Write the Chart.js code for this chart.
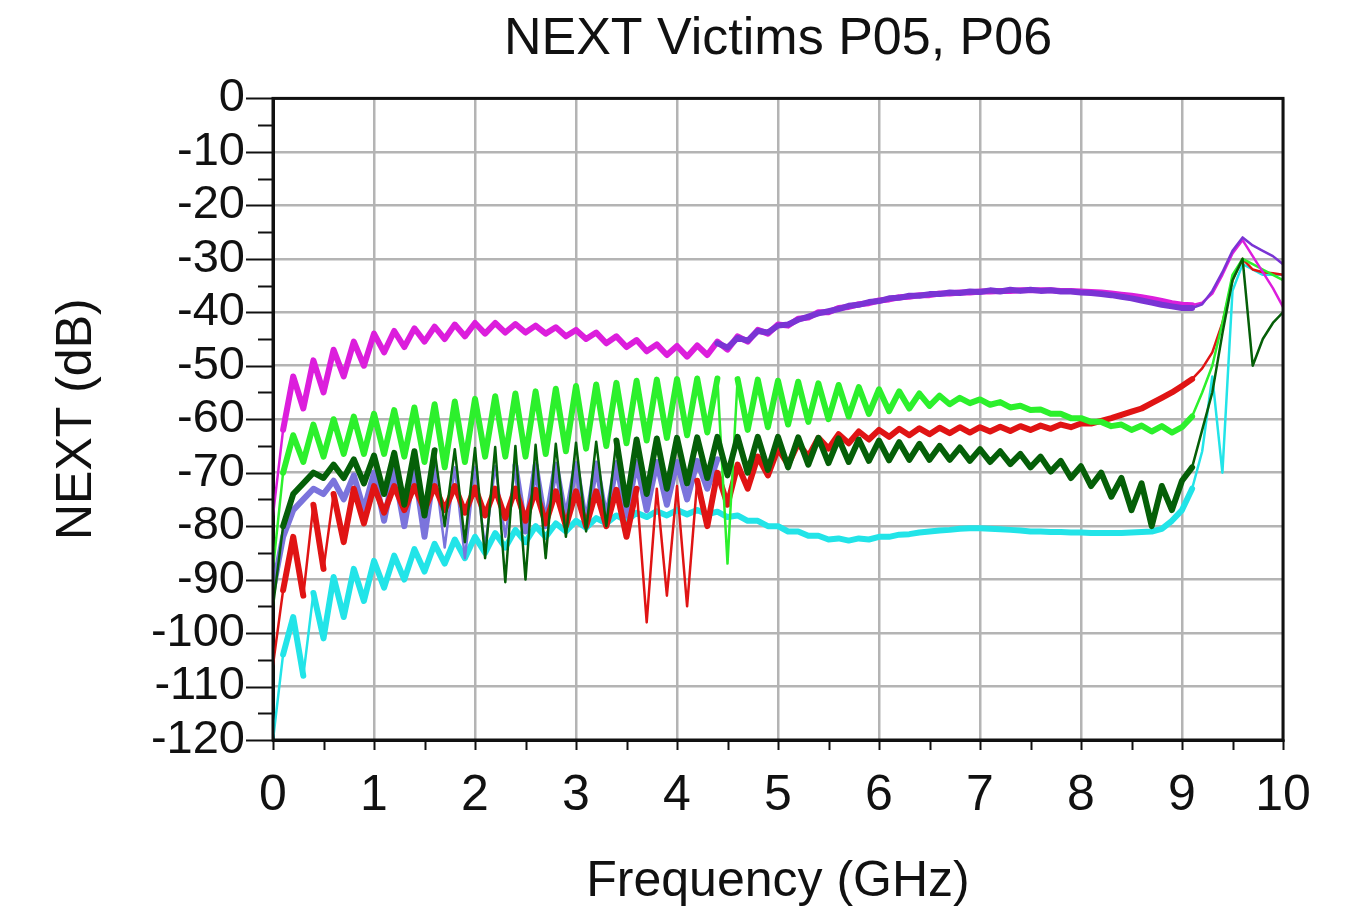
<!DOCTYPE html>
<html>
<head>
<meta charset="utf-8">
<script src="https://cdn.jsdelivr.net/npm/chart.js@4.4.1/dist/chart.umd.min.js"></script>
<style>
  html, body { margin: 0; padding: 0; background: #ffffff; }
  #wrap { width: 1364px; height: 916px; }
</style>
</head>
<body>
<div id="wrap"><canvas id="c" width="1364" height="916"></canvas></div>
<script>
// ---- text ----
const chartTitle = "NEXT Victims P05, P06";
const xTitle = "Frequency (GHz)";
const yTitle = "NEXT (dB)";

// ---- axis ticks ----
const xTickValues = [0, 1, 2, 3, 4, 5, 6, 7, 8, 9, 10];
const yTickValues = [0, -10, -20, -30, -40, -50, -60, -70, -80, -90, -100, -110, -120];

// ---- frequency sampling grid (GHz), 0.1 GHz step ----
const freqGHz = Array.from({ length: 101 }, (_, i) => i / 10);

// ---- series values (dB), one per grid point ----
const magenta = [
  -78, -62, -52, -58, -49, -55, -47, -52, -45.5, -50,
  -44, -47.5, -43.5, -46.5, -43, -45.5, -42.7, -45, -42.3, -44.5,
  -42, -44, -42, -43.8, -42.2, -43.8, -42.5, -44, -42.8, -44.5,
  -43.3, -45, -43.8, -45.8, -44.5, -46.5, -45.2, -47.3, -46, -48,
  -46.3, -48.3, -46.2, -48, -45.5, -47, -44.5, -45.5, -43.3, -44,
  -42.3, -42.5, -41.2, -41, -40, -40, -39.2, -39, -38.5, -38.3,
  -37.8, -37.6, -37.2, -37.1, -36.8, -36.8, -36.5, -36.5, -36.3, -36.3,
  -36.1, -36.1, -36, -36, -35.9, -35.9, -35.9, -35.9, -36, -36,
  -36.1, -36.2, -36.3, -36.5, -36.7, -36.9, -37.2, -37.5, -37.9, -38.3,
  -38.6, -38.7, -38.2, -36.5, -33, -29, -26.5, -29.5, -32.5, -35.5,
  -39
];
const violet = [
  null, null, null, null, null, null, null, null, null, null,
  null, null, null, null, null, null, null, null, null, null,
  null, null, null, null, null, null, null, null, null, null,
  null, null, null, null, null, null, null, null, null, null,
  null, null, null, null, -45.8, -46.6, -44.8, -45.3, -43.5, -43.8,
  -42.5, -42.3, -41.4, -40.8, -40.2, -39.8, -39.4, -38.8, -38.6, -38.1,
  -37.9, -37.4, -37.3, -36.9, -36.9, -36.6, -36.6, -36.3, -36.4, -36.1,
  -36.2, -35.9, -36.1, -35.8, -36, -35.8, -36, -35.9, -36.1, -36.1,
  -36.3, -36.4, -36.6, -36.8, -37.1, -37.4, -37.8, -38.2, -38.6, -38.9,
  -39.2, -39.2, -38.5, -36, -32.5, -28.5, -26, -27.5, -28.5, -29.5,
  -31
];
const lightGreen = [
  -88, -70, -63, -68, -61, -67, -60, -66.5, -59.5, -66.5,
  -59, -66.5, -58.3, -67, -57.8, -68, -57.2, -69, -56.7, -68,
  -56.2, -67, -55.7, -67, -55.2, -67, -54.8, -66.5, -54.3, -66,
  -53.8, -65.5, -53.5, -65, -53.2, -64.5, -52.8, -64, -52.6, -63.5,
  -52.5, -63, -52.4, -62.5, -52.4, -87, -52.5, -62, -52.6, -61.5,
  -52.8, -61, -53, -60.5, -53.3, -60, -53.6, -59.5, -54, -59,
  -54.4, -58.5, -54.8, -58, -55.2, -57.5, -55.6, -57.2, -56, -57,
  -56.3, -57.3, -56.8, -57.8, -57.5, -58.3, -58.2, -59, -59, -59.8,
  -59.8, -60.5, -60.5, -61.3, -61, -62, -61.2, -62.3, -61.3, -62.5,
  -61.5, -59.5, -55, -50, -42, -33, -30, -31, -32, -33,
  -34
];
const red = [
  -106, -92, -82, -93, -76, -88, -74, -83, -73, -79.5,
  -72.5, -77.5, -72.5, -77, -72.5, -77, -72.5, -77, -72.5, -77.5,
  -72.8, -78, -73, -78.5, -73, -79, -73.2, -79.5, -73.5, -80,
  -73.5, -80, -73.5, -80, -73.2, -82, -73, -98, -73, -93,
  -72.5, -95, -71.5, -80, -70, -76, -68.5, -73, -67, -70.5,
  -65.5, -68.5, -64.5, -67, -63.5, -65.5, -62.8, -64.5, -62.3, -63.8,
  -62, -63.3, -61.8, -63, -61.7, -62.8, -61.6, -62.6, -61.5, -62.5,
  -61.5, -62.3, -61.4, -62.2, -61.3, -62, -61.2, -61.8, -61, -61.5,
  -60.8, -60.8, -60.3, -59.8, -59.2, -58.6, -58, -57, -56, -55,
  -53.8, -52.5, -50.5, -47.5, -42, -34, -30, -32, -32.5, -32.7,
  -33
];
const darkGreen = [
  -95, -80, -74, -72, -70, -71, -68.5, -71, -67.5, -72,
  -66.8, -74, -66.3, -76, -66, -78, -65.8, -80, -65.6, -83,
  -65.4, -86, -65.2, -90.5, -65, -90, -64.8, -86, -64.6, -82,
  -64.4, -81, -64.2, -80, -64, -76, -63.8, -74, -63.6, -73,
  -63.5, -72, -63.4, -71, -63.3, -70.5, -63.3, -70, -63.3, -69.5,
  -63.3, -69, -63.4, -68.5, -63.5, -68.2, -63.6, -68, -63.8, -67.8,
  -64, -67.7, -64.3, -67.6, -64.6, -67.6, -65, -67.6, -65.3, -67.8,
  -65.6, -68, -66, -68.4, -66.5, -69, -67, -69.8, -67.8, -71,
  -68.8, -72.5, -70, -74.5, -71, -77, -72, -80, -72.5, -77,
  -71.5, -69, -62, -55, -44, -34, -30, -50, -45, -42,
  -40
];
const slateBlue = [
  -92, -82, -77, -75, -73, -74, -71.5, -75, -70.5, -77,
  -70, -79, -69.5, -80, -69.2, -82, -69, -84, -69, -86,
  -69, -84, -68.8, -82, -68.7, -81, -68.6, -80, -68.5, -79,
  -68.4, -80, -68.3, -79, -68.2, -78, -68, -77, -68, -76,
  -68, -75, -67.8, -73, -67.5, null, null, null, null, null,
  null, null, null, null, null, null, null, null, null, null,
  null, null, null, null, null, null, null, null, null, null,
  null, null, null, null, null, null, null, null, null, null,
  null, null, null, null, null, null, null, null, null, null,
  null, null, null, null, null, null, null, null, null, null,
  null
];
const cyan = [
  -120, -104, -97, -108, -92.5, -101, -89.5, -97, -88, -94,
  -86.5, -91.5, -85.5, -90, -84.3, -88.5, -83.3, -87, -82.5, -86,
  -82, -85, -81.3, -84, -80.7, -83, -80, -82, -79.5, -81,
  -79, -80.3, -78.5, -79.5, -78, -79, -77.5, -78.3, -77.2, -78,
  -77, -77.8, -77, -77.8, -77.3, -78.3, -78, -79, -79, -80,
  -80, -81, -81, -81.8, -81.8, -82.5, -82.3, -82.7, -82.3, -82.5,
  -82, -82, -81.6, -81.5, -81.2, -81, -80.8, -80.7, -80.5, -80.4,
  -80.4, -80.5, -80.6, -80.7, -80.8, -81, -81, -81.1, -81.1, -81.2,
  -81.2, -81.3, -81.3, -81.3, -81.3, -81.2, -81.1, -81, -80.5, -79,
  -77, -73, -66, -52, -70, -36, -31, -32, -33, -33,
  -33
];

// ---- build datasets ----
function pts(values) {
  return freqGHz.map((f, i) => ({ x: f, y: values[i] }));
}
const seriesDefs = [
  { label: "cyan", values: cyan, color: "#22e4e8", order: 7 },
  { label: "slate", values: slateBlue, color: "#7b74dc", order: 6 },
  { label: "red", values: red, color: "#e01414", order: 5 },
  { label: "green", values: lightGreen, color: "#2cf02c", order: 4 },
  { label: "darkgreen", values: darkGreen, color: "#055f08", order: 3 },
  { label: "magenta", values: magenta, color: "#dc1edc", order: 2 },
  { label: "violet", values: violet, color: "#7a34d4", order: 1 }
];
// thick trace, thin where the trace dives into a narrow resonance spike
const segWidth = ctx => {
  const a = ctx.p0.parsed, b = ctx.p1.parsed;
  if (b.x > 9.15) return 2.5;
  return Math.abs(b.y - a.y) > 13 ? 2.5 : 6;
};
const datasets = seriesDefs.map(s => ({
  label: s.label,
  data: pts(s.values),
  borderColor: s.color,
  backgroundColor: s.color,
  borderWidth: 6,
  segment: { borderWidth: segWidth },
  pointRadius: 0,
  tension: 0,
  spanGaps: false,
  borderJoinStyle: "round",
  borderCapStyle: "round",
  order: s.order
}));

const FONT = "'Liberation Sans', Arial, sans-serif";

const framePlugin = {
  id: "frameTicks",
  afterDraw(chart) {
    const { ctx, chartArea: a, scales } = chart;
    ctx.save();
    ctx.strokeStyle = "#111";
    ctx.lineWidth = 2;
    for (let v = -120; v <= 0; v += 5) {
      const y = Math.round(scales.y.getPixelForValue(v)) + 0.5;
      const len = (v % 10 === 0) ? 27 : 15;
      ctx.beginPath(); ctx.moveTo(a.left - len, y); ctx.lineTo(a.left, y); ctx.stroke();
    }
    for (let k = 0; k <= 20; k++) {
      const x = Math.round(scales.x.getPixelForValue(k / 2)) + 0.5;
      ctx.beginPath(); ctx.moveTo(x, a.bottom); ctx.lineTo(x, a.bottom + 10); ctx.stroke();
    }
    ctx.lineWidth = 3;
    ctx.strokeRect(a.left, a.top, a.right - a.left, a.bottom - a.top);
    ctx.restore();
  }
};

new Chart(document.getElementById("c"), {
  type: "line",
  data: { datasets },
  plugins: [framePlugin],
  options: {
    responsive: false,
    animation: false,
    events: [],
    layout: { padding: { left: 0, right: 81, top: 0, bottom: 0 } },
    plugins: {
      legend: { display: false },
      tooltip: { enabled: false },
      title: {
        display: true,
        text: chartTitle,
        fullSize: false,
        color: "#111",
        font: { family: FONT, size: 52, weight: "normal", lineHeight: 1.2 },
        padding: { top: 8, bottom: 28 }
      }
    },
    scales: {
      x: {
        type: "linear",
        min: 0, max: 10,
        afterFit(scale) { scale.height = 176; },
        afterBuildTicks(scale) {
          scale.ticks = xTickValues.map(v => ({ value: v }));
        },
        ticks: {
          autoSkip: false,
          maxRotation: 0,
          padding: 26,
          color: "#111",
          font: { family: FONT, size: 50, lineHeight: 1.2 },
          callback: v => String(v)
        },
        grid: { color: "#b4b4b4", lineWidth: 2.5, drawTicks: false },
        border: { display: true, color: "#111", width: 3 },
        title: {
          display: true, text: xTitle, color: "#111",
          font: { family: FONT, size: 50, lineHeight: 1.2 },
          padding: { top: 0, bottom: 4 }
        }
      },
      y: {
        type: "linear",
        min: -120, max: 0,
        afterFit(scale) { scale.width = 273; },
        afterBuildTicks(scale) {
          scale.ticks = yTickValues.map(v => ({ value: v }));
        },
        ticks: {
          autoSkip: false,
          padding: 28,
          color: "#111",
          font: { family: FONT, size: 47, lineHeight: 1.2 },
          callback: v => String(v)
        },
        grid: { color: "#b4b4b4", lineWidth: 2.5, drawTicks: false },
        border: { display: true, color: "#111", width: 3 },
        title: {
          display: true, text: yTitle, color: "#111",
          font: { family: FONT, size: 50, lineHeight: 1.2 },
          padding: { top: 47, bottom: 0 }
        }
      }
    }
  }
});
</script>
</body>
</html>
